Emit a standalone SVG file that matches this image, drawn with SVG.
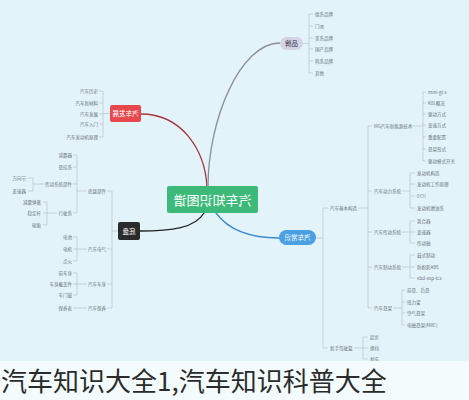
<svg xmlns="http://www.w3.org/2000/svg" width="469" height="400" viewBox="0 0 469 400">
<style>
text{font-family:"Noto Sans CJK SC","Noto Sans",sans-serif}
.s{font-size:4.5px;fill:#6b7378}
.e{text-anchor:end}
.b{fill:none;stroke:#b3bcc1;stroke-width:.6}
.k{fill:none;stroke-width:1.3;stroke-linecap:round}
.n{font-size:6.5px;text-anchor:middle}
</style>
<rect width="469" height="400" fill="#e2f4fa"/>
<g id="connectors">
<path class="k" stroke="#a8363a" d="M207,187 C205,150 182,114 141,114"/>
<path class="k" stroke="#8e8e96" d="M208,187 C208,120 240,43 280,43"/>
<path class="k" stroke="#222" d="M204,213 C195,228 172,231 140,231"/>
<path class="k" stroke="#3f8bcc" d="M216,213 C230,232 252,238 279,238"/>
<path class="b" d="M303,43.5H309M309,14V73M309,14H313M309,26H313M309,38H313M309,49H313M309,61H313M309,73H313"/>
<path class="b" d="M110,113.5H103M103,91V137M103,91H99M103,103H99M103,114H99M103,124H99M103,137H99"/>
<path class="b" d="M118,231H112M112,191V308M112,191H107M112,249H107M112,284H107M112,308H107"/>
<path class="b" d="M87,191H77M77,155V213M77,155H73M77,167H73M77,184H73M77,213H73"/>
<path class="b" d="M44,184H33M33,178V191M33,178H28M33,191H28"/>
<path class="b" d="M57,213H47M47,202V225M47,202H43M47,213H43M47,225H43"/>
<path class="b" d="M87,249H77M77,237V261M77,237H73M77,249H73M77,261H73"/>
<path class="b" d="M87,284H77M77,273V295M77,273H73M77,284H73M77,295H73"/>
<path class="b" d="M87,308H73"/>
<path class="b" d="M316,238H323M323,208V348M323,208H328M323,348H328"/>
<path class="b" d="M358,208H368M368,126V308M368,126H372M368,191H372M368,232H372M368,267H372M368,308H372"/>
<path class="b" d="M412,126H423M423,92V161M423,92H426M423,103H426M423,114H426M423,125H426M423,137H426M423,149H426M423,161H426"/>
<path class="b" d="M402,191H410M410,173V208M410,173H415M410,184H415M410,196H415M410,208H415"/>
<path class="b" d="M402,232H410M410,221V243M410,221H415M410,232H415M410,243H415"/>
<path class="b" d="M402,267H410M410,255V278M410,255H415M410,267H415M410,278H415"/>
<path class="b" d="M393,308H402M402,290V325M402,290H405M402,302H405M402,313H405M402,325H405"/>
<path class="b" d="M354,348H363M363,337V359M363,337H368M363,348H368M363,359H368"/>
</g>
<g id="center">
<rect x="167" y="186" width="91" height="27" rx="2" fill="#3dba7a"/>
<text transform="translate(212.5,204.5) scale(-1,1)" style="font-size:13px;text-anchor:middle;fill:#fff">汽车知识图谱</text>
</g>
<g id="brand">
<rect x="280" y="37" width="23" height="13" rx="6.5" fill="#d4d4e6"/>
<text class="n" transform="translate(291.5,46) scale(-1,1)" fill="#3a3a48">品牌</text>
<text class="s" x="315" y="15.6">德系品牌</text>
<text class="s" x="315" y="27.6">门派</text>
<text class="s" x="315" y="39.6">美系品牌</text>
<text class="s" x="315" y="50.6">国产品牌</text>
<text class="s" x="315" y="62.6">韩系品牌</text>
<text class="s" x="315" y="74.6">其他</text>
</g>
<g id="history">
<rect x="110" y="105" width="31" height="17" rx="2" fill="#e6484e"/>
<text class="n" transform="translate(125.5,116) scale(-1,1)" fill="#fff">汽车发展</text>
<text class="s e" x="98" y="92.6">汽车历史</text>
<text class="s e" x="98" y="104.6">汽车新材料</text>
<text class="s e" x="98" y="115.6">汽车发展</text>
<text class="s e" x="98" y="125.6">汽车入门</text>
<text class="s e" x="98" y="138.6">汽车发动机原理</text>
</g>
<g id="chassis">
<rect x="118" y="222" width="22" height="18" rx="2" fill="#2b2b2b"/>
<text class="n" transform="translate(129,233.5) scale(-1,1)" fill="#fff">底盘</text>
<text class="s e" x="106" y="192.6">底盘部件</text>
<text class="s e" x="72" y="156.6">减震器</text>
<text class="s e" x="72" y="168.6">悬挂系</text>
<text class="s e" x="72" y="185.6">传动系统部件</text>
<text class="s e" x="72" y="214.6">行驶系</text>
<text class="s e" x="26" y="179.6">万向节</text>
<text class="s e" x="26" y="192.6">差速器</text>
<text class="s e" x="41" y="203.6">减震弹簧</text>
<text class="s e" x="41" y="214.6">稳定杆</text>
<text class="s e" x="41" y="226.6">轮胎</text>
<text class="s e" x="106" y="250.6">汽车电气</text>
<text class="s e" x="72" y="238.6">电池</text>
<text class="s e" x="72" y="250.6">电机</text>
<text class="s e" x="72" y="262.6">点火</text>
<text class="s e" x="106" y="285.6">汽车车身</text>
<text class="s e" x="72" y="274.6">前车身</text>
<text class="s e" x="72" y="285.6">车身覆盖件</text>
<text class="s e" x="72" y="296.6">车门窗</text>
<text class="s e" x="106" y="309.6">汽车保养</text>
<text class="s e" x="72" y="309.6">保养表</text>
</g>
<g id="common">
<rect x="279" y="230" width="37" height="15" rx="7.5" fill="#4b9fe3"/>
<text class="n" transform="translate(297.5,240) scale(-1,1)" fill="#fff">汽车常识</text>
<text class="s" x="330" y="209.6">汽车基本构造</text>
<text class="s" x="374" y="127.6">MG汽车新能源技术</text>
<text class="s" x="428" y="93.6">mini-gt-s</text>
<text class="s" x="428" y="104.6">K8L概况</text>
<text class="s" x="428" y="115.6">驱动方式</text>
<text class="s" x="428" y="126.6">变速方式</text>
<text class="s" x="428" y="138.6">重要配置</text>
<text class="s" x="428" y="150.6">悬架形式</text>
<text class="s" x="428" y="162.6">驱动模式开关</text>
<text class="s" x="374" y="192.6">汽车动力系统</text>
<text class="s" x="417" y="174.6">发动机构造</text>
<text class="s" x="417" y="185.6">发动机工作原理</text>
<text class="s" x="417" y="197.6">ECU</text>
<text class="s" x="417" y="209.6">发动机燃油系</text>
<text class="s" x="374" y="233.6">汽车传动系统</text>
<text class="s" x="417" y="222.6">离合器</text>
<text class="s" x="417" y="233.6">变速器</text>
<text class="s" x="417" y="244.6">传动轴</text>
<text class="s" x="374" y="268.6">汽车制动系统</text>
<text class="s" x="417" y="256.6">鼓式制动</text>
<text class="s" x="417" y="268.6">防抱死ABS</text>
<text class="s" x="417" y="279.6">ebd-esp-tcs</text>
<text class="s" x="374" y="309.6">汽车悬架</text>
<text class="s" x="407" y="291.6">前悬、后悬</text>
<text class="s" x="407" y="303.6">扭力梁</text>
<text class="s" x="407" y="314.6">空气悬架</text>
<text class="s" x="407" y="326.6">电磁悬架(MRC)</text>
<text class="s" x="330" y="349.6">新手驾驶篇</text>
<text class="s" x="370" y="338.6">起步</text>
<text class="s" x="370" y="349.6">换挡</text>
<text class="s" x="370" y="360.6">刹车</text>
</g>
<rect x="0" y="361" width="469" height="39" fill="#f4fbfd" opacity="0.93"/>
<text x="1" y="391" style="font-size:26px;fill:#2b2b2b">汽车知识大全1,汽车知识科普大全</text>
</svg>
